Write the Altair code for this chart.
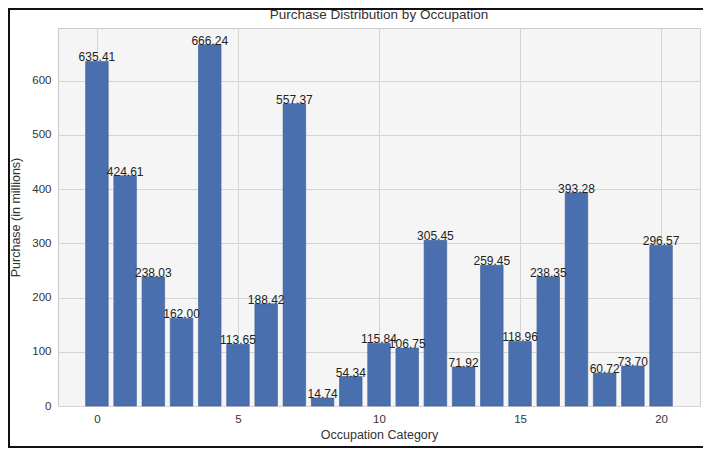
import altair as alt
import pandas as pd

occupation = list(range(21))
purchase = [635.41, 424.61, 238.03, 162.00, 666.24, 113.65, 188.42, 557.37, 14.74, 54.34,
            115.84, 106.75, 305.45, 71.92, 259.45, 118.96, 238.35, 393.28, 60.72, 73.70, 296.57]
labels = [f"{v:.2f}" for v in purchase]
title_text = "Purchase Distribution by Occupation"

df = pd.DataFrame({"occ": occupation, "purchase": purchase, "label": labels})
df["x0"] = df["occ"] - 0.4
df["x1"] = df["occ"] + 0.4

FONT = "Liberation Sans"
xscale = alt.Scale(domain=[-1.38, 21.38], nice=False, zero=False)
yscale = alt.Scale(domain=[0, 697], nice=False)

bars = alt.Chart(df).mark_rect(color="#4a6fae", stroke="#3d5d94", strokeWidth=0.6).encode(
    x=alt.X("x0:Q", scale=xscale, title="Occupation Category",
            axis=alt.Axis(values=[0, 5, 10, 15, 20], format="d")),
    x2="x1:Q",
    y=alt.Y("purchase:Q", scale=yscale, title="Purchase (in millions)",
            axis=alt.Axis(values=[0, 100, 200, 300, 400, 500, 600])),
    y2=alt.datum(0),
)

text = alt.Chart(df).mark_text(font=FONT, fontSize=12, color="#222222", baseline="bottom", dy=3).encode(
    x=alt.X("occ:Q", scale=xscale),
    y=alt.Y("purchase:Q", scale=yscale),
    text="label:N",
)

one = alt.Chart(df).transform_filter("datum.occ == 0")

border = one.mark_rect(fill=None, stroke="#111111", strokeWidth=2, clip=False).encode(
    x=alt.value(-49), x2=alt.value(653), y=alt.value(-19), y2=alt.value(419)
)

title = one.mark_text(font=FONT, fontSize=13.5, color="#333333", baseline="alphabetic",
                      align="center", clip=False).encode(
    x=alt.value(321), y=alt.value(-9), text=alt.value(title_text)
)

chart = alt.layer(border, bars, text, title).properties(
    width=642, height=378,
    padding={"left": 50, "top": 20, "right": 3, "bottom": 42},
    autosize=alt.AutoSizeParams(type="none"),
).configure_view(
    fill="#f5f5f5", stroke="#cccccc", strokeWidth=1
).configure_axis(
    labelFont=FONT, titleFont=FONT, labelFontSize=11.5, titleFontSize=12.5,
    labelColor="#333333", titleColor="#333333", titleFontWeight="normal",
    gridColor="#d4d4d4", gridWidth=1, domain=False, ticks=False, labelPadding=7,
).configure_axisX(titlePadding=4).configure_axisY(titlePadding=9)

chart.save("out.html", embed_options={"renderer": "svg", "actions": False})
